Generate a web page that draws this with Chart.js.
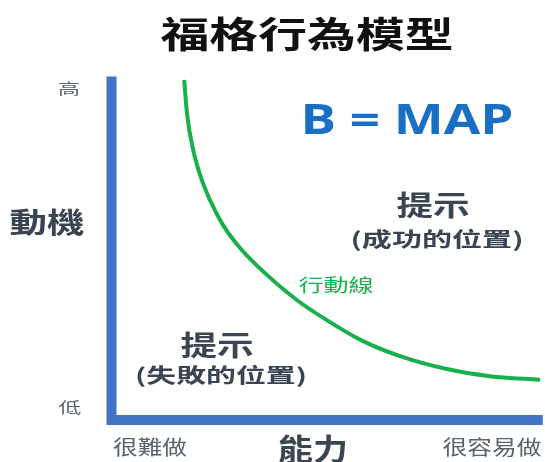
<!DOCTYPE html>
<html>
<head>
<meta charset="utf-8">
<script src="https://cdn.jsdelivr.net/npm/chart.js@4.4.1/dist/chart.umd.min.js"></script>
<style>
  html, body { margin: 0; padding: 0; background: #ffffff; }
  #wrap { width: 545px; height: 462px; }
</style>
</head>
<body>
<div id="wrap"><canvas id="c" width="545" height="462"></canvas></div>
<script>
// ---- data ----
const titleText = '福格行為模型';
const yTickLabels = ['低', '高'];
const xTickLabels = ['很難做', '很容易做'];
const yAxisTitle = '動機';
const xAxisTitle = '能力';
const formulaText = 'B = MAP';
const successLabel = ['提示', '(成功的位置)'];
const failLabel = ['提示', '(失敗的位置)'];
const curveLabel = '行動線';

// axis L-shape (motivation axis + ability axis)
const axisX = [0, 0, 10.03];
const axisY = [10.1, 0, 0];

// action line (ability on x, motivation on y, 0..10)
const curveX = [1.69, 1.76, 1.90, 2.06, 2.29, 2.59, 3.03, 3.57, 4.31, 5.08, 5.85, 6.71, 7.80, 8.80, 9.97];
const curveY = [10.00, 8.97, 7.94, 7.21, 6.47, 5.74, 5.00, 4.32, 3.53, 2.88, 2.32, 1.88, 1.50, 1.29, 1.18];

const FONT = '"Noto Sans CJK TC", "Noto Sans CJK SC", sans-serif';
const DARK = '#3b4452';
const GREY = '#5a626e';
const BLUE = '#4472c4';
const GREEN = '#17b04b';

// text annotations: pixel centre, font size, weight, colour, target width
const annotations = [
  { text: titleText, x: 307, y: 34, size: 36, weight: 'bold', color: '#111111', w: 293 },
  { text: yTickLabels[1], x: 69, y: 88, size: 15, weight: 'normal', color: GREY, w: 22 },
  { text: yTickLabels[0], x: 70, y: 407, size: 15, weight: 'normal', color: GREY, w: 23 },
  { text: yAxisTitle, x: 47, y: 222, size: 28, weight: 'bold', color: DARK, w: 75 },
  { text: xTickLabels[0], x: 150, y: 447, size: 20, weight: 'normal', color: GREY, w: 74 },
  { text: xAxisTitle, x: 313, y: 449, size: 30, weight: 'bold', color: DARK, w: 70 },
  { text: xTickLabels[1], x: 492, y: 447, size: 20, weight: 'normal', color: GREY, w: 99 },
  { text: formulaText, x: 407, y: 122, size: 42, weight: 'bold', color: '#1a6fc4', w: 213, latin: true },
  { text: successLabel[0], x: 433, y: 205, size: 28, weight: 'bold', color: DARK, w: 73 },
  { text: successLabel[1], x: 437, y: 239, size: 20, weight: 'bold', color: DARK, w: 173 },
  { text: curveLabel, x: 336, y: 285, size: 18, weight: 'normal', color: GREEN, w: 75 },
  { text: failLabel[0], x: 217, y: 345, size: 28, weight: 'bold', color: DARK, w: 73 },
  { text: failLabel[1], x: 221, y: 375, size: 20, weight: 'bold', color: DARK, w: 172 }
];

const textPlugin = {
  id: 'textPlugin',
  afterDraw(chart) {
    const ctx = chart.ctx;
    annotations.forEach(a => {
      ctx.save();
      const fam = a.latin ? '"Open Sans", "DejaVu Sans", sans-serif' : FONT;
      ctx.font = a.weight + ' ' + a.size + 'px ' + fam;
      ctx.fillStyle = a.color;
      ctx.textAlign = 'center';
      ctx.textBaseline = 'middle';
      const mw = ctx.measureText(a.text).width;
      const sx = a.w / mw;
      ctx.translate(a.x, a.y);
      ctx.scale(sx, 1);
      ctx.fillText(a.text, 0, 0);
      ctx.restore();
    });
  }
};

new Chart(document.getElementById('c'), {
  type: 'line',
  data: {
    datasets: [
      {
        label: 'axes',
        data: axisX.map((x, i) => ({ x: x, y: axisY[i] })),
        borderColor: BLUE,
        borderWidth: 10,
        borderJoinStyle: 'miter',
        borderCapStyle: 'butt',
        pointRadius: 0,
        tension: 0,
        clip: false
      },
      {
        label: curveLabel,
        data: curveX.map((x, i) => ({ x: x, y: curveY[i] })),
        borderColor: GREEN,
        borderWidth: 4,
        pointRadius: 0,
        cubicInterpolationMode: 'monotone',
        clip: false
      }
    ]
  },
  options: {
    responsive: false,
    animation: false,
    devicePixelRatio: 1,
    layout: { padding: { left: 111.5, right: 3.5, top: 80, bottom: 42 } },
    plugins: { legend: { display: false }, tooltip: { enabled: false }, title: { display: false } },
    scales: {
      x: { type: 'linear', min: 0, max: 10, display: false },
      y: { type: 'linear', min: 0, max: 10, display: false }
    }
  },
  plugins: [textPlugin]
});
</script>
</body>
</html>
